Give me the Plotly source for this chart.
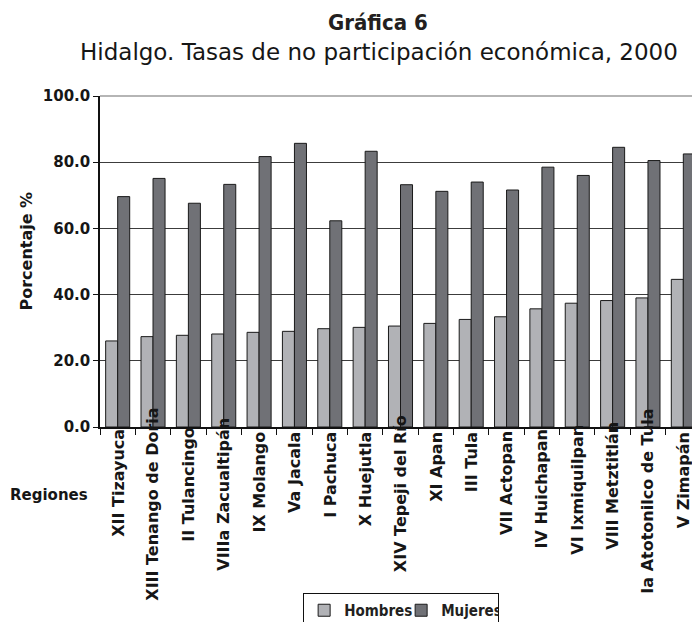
import plotly.graph_objects as go

# ---- Data ----
REGIONES = [
    "XII Tizayuca", "XIII Tenango de Doria", "II Tulancingo", "VIIIa Zacualtipán",
    "IX Molango", "Va Jacala", "I Pachuca", "X Huejutla", "XIV Tepeji del Río",
    "XI Apan", "III Tula", "VII Actopan", "IV Huichapan", "VI Ixmiquilpan",
    "VIII Metztitlán", "Ia Atotonilco de Tula", "V Zimapán",
]
HOMBRES = [26.0, 27.3, 27.7, 28.1, 28.6, 28.9, 29.7, 30.1, 30.5,
           31.3, 32.5, 33.3, 35.7, 37.4, 38.2, 39.0, 44.6]
MUJERES = [69.6, 75.1, 67.6, 73.3, 81.7, 85.7, 62.3, 83.3, 73.2,
           71.2, 74.0, 71.6, 78.5, 76.0, 84.5, 80.5, 82.5]
Y_TICKS = [0, 20, 40, 60, 80, 100]

# ---- Style ----
C_HOMBRES = "#b1b2b6"
C_MUJERES = "#707176"
EDGE = "#1a1a1a"
TXT = "#161616"
LABEL_FONT = "DejaVu Sans, Verdana, sans-serif"
COND_FONT = "DejaVu Sans Condensed, DejaVu Sans, sans-serif"

# the page body adds an 8px offset, so the margins are trimmed by that amount
PAGE_PAD = 8
TOP = 96 - PAGE_PAD
PLOT_H = 331

fig = go.Figure()
fig.add_trace(go.Bar(
    x=REGIONES, y=HOMBRES, name="Hombres",
    marker=dict(color=C_HOMBRES, line=dict(color=EDGE, width=1)),
))
fig.add_trace(go.Bar(
    x=REGIONES, y=MUJERES, name="Mujeres",
    marker=dict(color=C_MUJERES, line=dict(color=EDGE, width=1)),
))

annotations = [
    # title sits at the very top of the figure so it is not clipped
    dict(text="<b>Gráfica 6</b>", x=0.4633, y=1 + TOP / PLOT_H, xref="paper", yref="paper",
         xanchor="center", yanchor="top", showarrow=False,
         font=dict(family=COND_FONT, size=22, color="#231f20")),
    dict(text="Hidalgo. Tasas de no participación económica, 2000",
         x=0.465, y=1.145, xref="paper", yref="paper",
         xanchor="center", yanchor="middle", yshift=-4, showarrow=False,
         font=dict(family=LABEL_FONT, size=23, color=TXT)),
    dict(text="<b>Porcentaje %</b>", x=0, y=0.53, xref="paper", yref="paper",
         xanchor="center", yanchor="middle", xshift=-73, textangle=-90,
         showarrow=False, font=dict(family=LABEL_FONT, size=16, color=TXT)),
    dict(text="<b>Regiones</b>", x=0, y=-0.205, xref="paper", yref="paper",
         xanchor="right", yanchor="middle", xshift=-10, showarrow=False,
         font=dict(family=LABEL_FONT, size=15, color=TXT)),
]

# rotated category labels; long ones spill upward into the plot like the original
for reg in REGIONES:
    est_len = 9.3 * len(reg)
    lift = max(0.0, (est_len - 100) / 4)
    annotations.append(dict(
        text="<b>" + reg + "</b>", x=reg, y=0, xref="x", yref="paper",
        xanchor="center", yanchor="top", yshift=-3 + lift,
        textangle=-90, showarrow=False,
        font=dict(family=LABEL_FONT, size=16, color=TXT),
    ))

fig.update_layout(
    width=700, height=622,
    margin=dict(l=100 - PAGE_PAD, r=7, t=TOP, b=622 - TOP - PLOT_H, autoexpand=False),
    paper_bgcolor="white", plot_bgcolor="white",
    barmode="group", bargap=0.32, bargroupgap=0,
    showlegend=True,
    legend=dict(
        orientation="h", x=0.338, y=-0.5015, xanchor="left", yanchor="top",
        bordercolor="#111111", borderwidth=1, bgcolor="white",
        itemwidth=30, entrywidth=52, entrywidthmode="pixels",
        font=dict(family=COND_FONT, size=15, color="#231f20", weight="bold"),
    ),
    xaxis=dict(
        automargin=False,
        showticklabels=False, showgrid=False,
        showline=True, linecolor="#111111", linewidth=1.5,
        ticks="outside", tickson="boundaries", ticklen=6, tickcolor="#111111",
    ),
    yaxis=dict(
        automargin=False,
        range=[0, 100], tickvals=Y_TICKS, tickformat=".1f",
        showgrid=True, gridcolor="#3c3c3c", gridwidth=1.3,
        showline=True, linecolor="#111111", linewidth=1.5,
        ticks="outside", ticklen=5, tickcolor="#111111",
        zeroline=False,
        tickfont=dict(family=LABEL_FONT, size=15, color=TXT, weight="bold"),
    ),
    annotations=annotations,
    shapes=[
        dict(type="line", xref="paper", yref="paper", x0=0, x1=1, y0=1, y1=1,
             line=dict(color="#b5b5b5", width=2), layer="above"),
        dict(type="line", xref="paper", yref="paper", x0=0.997, x1=0.997, y0=0, y1=1,
             line=dict(color="#c8c8c8", width=1.5), layer="above"),
    ],
)

fig.write_html("out.html")
